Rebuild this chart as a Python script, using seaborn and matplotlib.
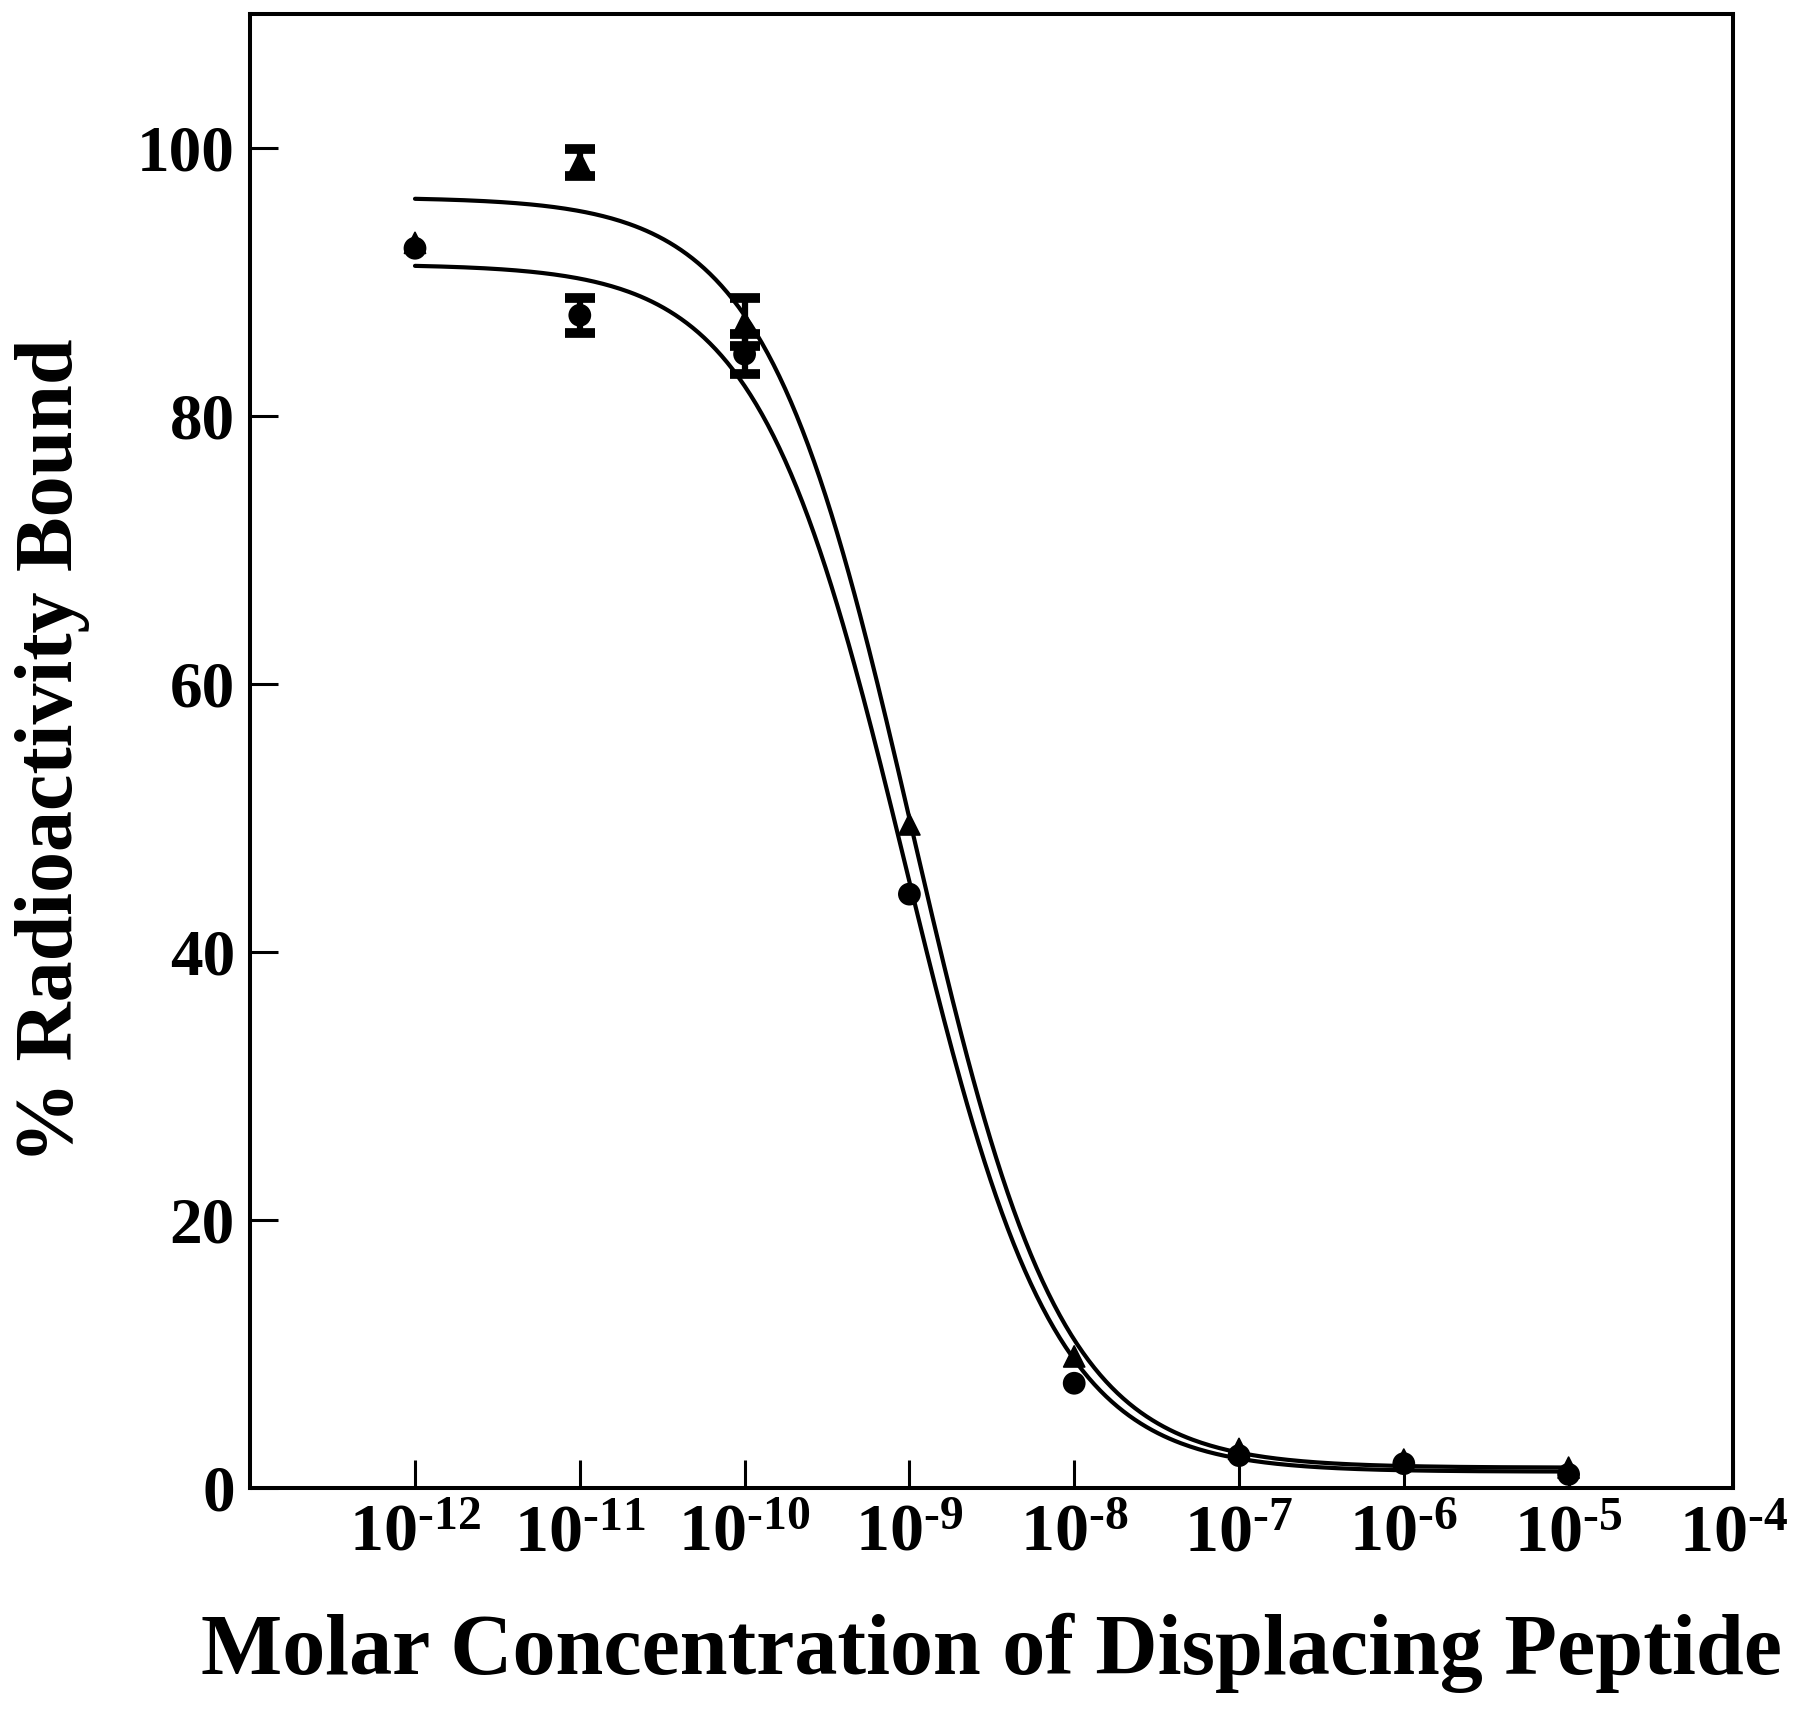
import numpy as np
import pandas as pd
import matplotlib.pyplot as plt
import matplotlib.ticker as mticker
import seaborn as sns

# concentrations (M) and % bound
concentrations = [1e-12, 1e-11, 1e-10, 1e-9, 1e-8, 1e-7, 1e-6, 1e-5]
triangle_values = [92.9, 98.9, 87.0, 49.5, 9.8, 2.9, 2.1, 1.5]
triangle_errors = [0.0, 1.0, 1.8, 0.0, 0.0, 0.0, 0.0, 0.0]
circle_values = [92.5, 87.5, 84.6, 44.3, 7.8, 2.4, 1.8, 1.0]
circle_errors = [0.0, 1.3, 1.5, 0.0, 0.0, 0.0, 0.0, 0.0]

# fitted one-site competition curves: top, bottom, log IC50, hill slope
triangle_fit = [96.3, 1.5, -8.98, 0.97]
circle_fit = [91.3, 1.2, -9.02, 0.97]

x_ticks = [1e-12, 1e-11, 1e-10, 1e-9, 1e-8, 1e-7, 1e-6, 1e-5, 1e-4]
x_tick_labels = [r"$10^{\text{-%d}}$" % e for e in range(12, 3, -1)]
y_ticks = [0, 20, 40, 60, 80, 100]


def hill(logx, top, bottom, logic50, slope):
    return bottom + (top - bottom) / (1 + 10 ** (slope * (logx - logic50)))


sns.set_style("ticks")
plt.rcParams["font.family"] = ["Liberation Serif", "DejaVu Serif"]
plt.rcParams["font.weight"] = "bold"
plt.rcParams["text.color"] = "black"
plt.rcParams["axes.labelcolor"] = "black"
plt.rcParams["mathtext.fontset"] = "custom"
plt.rcParams["mathtext.rm"] = "Liberation Serif:bold"
plt.rcParams["mathtext.bf"] = "Liberation Serif:bold"
plt.rcParams["mathtext.it"] = "Liberation Serif:bold"

points = pd.DataFrame({
    "conc": concentrations * 2,
    "bound": triangle_values + circle_values,
    "err": triangle_errors + circle_errors,
    "series": ["triangle"] * len(concentrations) + ["circle"] * len(concentrations),
})

logx = np.linspace(np.log10(concentrations[0]), np.log10(concentrations[-1]), 400)
curves = pd.DataFrame({
    "conc": np.concatenate([10 ** logx, 10 ** logx]),
    "bound": np.concatenate([hill(logx, *triangle_fit), hill(logx, *circle_fit)]),
    "series": ["triangle"] * len(logx) + ["circle"] * len(logx),
})

fig = plt.figure(figsize=(18, 17.16), dpi=100)
ax = fig.add_axes([0.139, 0.133, 0.824, 0.859])

sns.lineplot(data=curves, x="conc", y="bound", units="series", estimator=None,
             color="black", linewidth=3, ax=ax)

with_err = points[points["err"] > 0]
ax.errorbar(with_err["conc"], with_err["bound"], yerr=with_err["err"], fmt="none",
            ecolor="black", elinewidth=4.5, capsize=11, capthick=7, zorder=3)

sns.scatterplot(data=points, x="conc", y="bound", style="series",
                markers={"triangle": "^", "circle": "o"}, color="black",
                edgecolor="black", s=230, legend=False, zorder=4, ax=ax)

ax.set_xscale("log")
ax.set_xlim(1e-13, 1e-4)
ax.set_ylim(0, 110)
ax.set_xticks(x_ticks)
ax.set_xticklabels(x_tick_labels)
ax.xaxis.set_minor_locator(mticker.NullLocator())
ax.set_yticks(y_ticks)
ax.tick_params(axis="both", direction="in", length=20, width=2.2, colors="black")
ax.tick_params(axis="x", labelsize=49, pad=12)
ax.tick_params(axis="y", labelsize=47, pad=11)
for lab in ax.get_yticklabels():
    lab.set_fontweight("bold")
for side in ["left", "right", "top", "bottom"]:
    ax.spines[side].set_visible(True)
    ax.spines[side].set_linewidth(2.9)
    ax.spines[side].set_color("black")

ax.set_xlabel("Molar Concentration of Displacing Peptide", fontsize=62,
              fontweight="bold", labelpad=34)
ax.set_ylabel("% Radioactivity Bound", fontsize=59, fontweight="bold", labelpad=34)

fig.savefig("out.png", dpi=100, facecolor="white")
